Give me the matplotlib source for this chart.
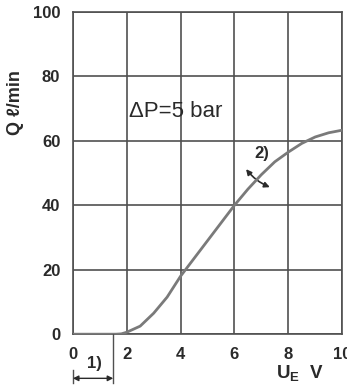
import matplotlib.pyplot as plt
from matplotlib.patches import FancyArrowPatch

plt.rcParams['font.family'] = ['Liberation Sans', 'DejaVu Sans']

# flow curve Q vs control voltage U_E
u_e = [0, 1.6, 1.8, 2.0, 2.5, 3.0, 3.5, 4.0, 4.5, 5.0, 5.5, 6.0,
       6.5, 7.0, 7.5, 8.0, 8.5, 9.0, 9.5, 10.0]
q = [0, 0, 0.1, 0.6, 2.5, 6.5, 11.5, 18, 23.5, 29, 34.5, 40,
     45, 49.5, 53.5, 56.5, 59.2, 61.2, 62.5, 63.3]

x_ticks = [0, 2, 4, 6, 8, 10]
y_ticks = [0, 20, 40, 60, 80, 100]

grid_col = '#505050'
text_col = '#2a2a2a'

fig = plt.figure(figsize=(3.47, 3.85), dpi=100)
ax = fig.add_axes([0.210, 0.132, 0.776, 0.837])

ax.plot(u_e, q, color='#7a7a7a', lw=2.0, zorder=3)

ax.set_xlim(0, 10)
ax.set_ylim(0, 100)
ax.set_xticks(x_ticks)
ax.set_yticks(y_ticks)
ax.grid(True, color=grid_col, lw=1.2)
for s in ax.spines.values():
    s.set_color(grid_col)
    s.set_linewidth(1.2)
ax.tick_params(length=0, labelsize=12, labelcolor=text_col, pad=9)
for lab in ax.get_xticklabels() + ax.get_yticklabels():
    lab.set_fontweight('bold')

ax.set_ylabel('Q ℓ/min', fontsize=13, fontweight='bold', color=text_col)
ax.yaxis.set_label_coords(-0.18, 0.72)

ax.text(7.55, -12.3, r'U$_\mathregular{E}$  V', fontsize=13.5, fontweight='bold',
        color=text_col, ha='left', va='center', clip_on=False)

ax.text(2.1, 69, 'ΔP=5 bar', fontsize=16, color=text_col, ha='left',
        va='center')
ax.text(7.0, 56, '2)', fontsize=12, fontweight='bold', color=text_col,
        ha='center', va='center')
arr = FancyArrowPatch((6.37, 51.9), (7.41, 45.3), arrowstyle='<|-|>',
                      mutation_scale=8, connectionstyle='arc3,rad=0.15',
                      color=text_col, lw=1.2)
ax.add_patch(arr)

# dead band dimension below the axis
ax.plot([1.5, 1.5], [0, -15], color=grid_col, lw=1.0, clip_on=False)
ax.plot([0, 0], [-11, -15], color=grid_col, lw=1.0, clip_on=False)
ax.annotate('', xy=(0, -13.7), xytext=(1.5, -13.7),
            arrowprops=dict(arrowstyle='<|-|>', color=text_col, lw=1.0,
                            mutation_scale=8, shrinkA=0, shrinkB=0),
            annotation_clip=False)
ax.text(0.8, -9, '1)', fontsize=12, fontweight='bold', color=text_col,
        ha='center', va='center', clip_on=False)

fig.savefig('out.png', dpi=100)
